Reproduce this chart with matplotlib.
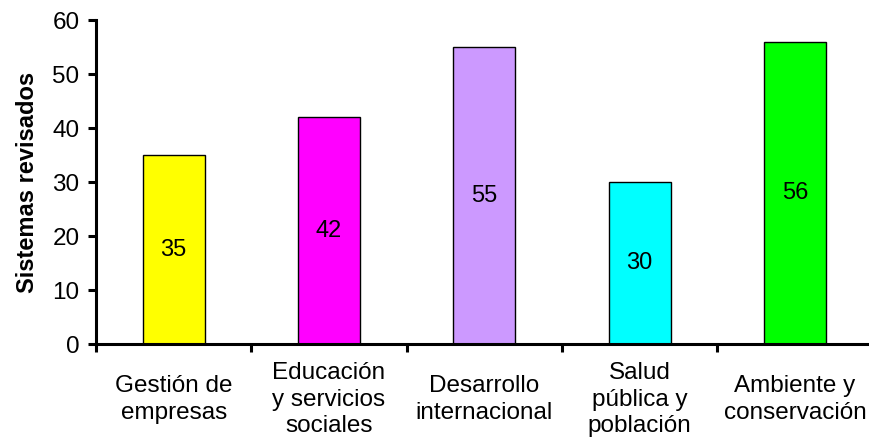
import numpy as np
import matplotlib
matplotlib.use('Agg')
from matplotlib import pyplot as plt

plt.rcParams['font.family'] = ['Liberation Sans', 'DejaVu Sans']

categorias = ['Gestión de\nempresas', 'Educación\ny servicios\nsociales',
              'Desarrollo\ninternacional', 'Salud\npública y\npoblación',
              'Ambiente y\nconservación']
valores = [35, 42, 55, 30, 56]
colores = ['#FFFF00', '#FF00FF', '#CC99FF', '#00FFFF', '#00FF00']

fig = plt.figure(figsize=(8.7, 4.38), dpi=100)
ax = fig.add_axes([0.1103, 0.2146, 0.8927, 0.7394])

x = np.arange(len(valores))
barras = ax.bar(x, valores, width=0.4, color=colores, edgecolor='black', linewidth=1.0)

# etiquetas dentro de las barras, centradas
for xi, v in zip(x, valores):
    ax.text(xi, v / 2, str(v), ha='center', va='center', fontsize=17)

ax.set_xlim(-0.5, len(valores) - 0.5)
ax.set_ylim(0, 60)
ax.set_yticks(np.arange(0, 61, 10))

# ticks mayores en los limites entre categorias, etiquetas en los centros
ax.set_xticks(np.arange(-0.5, len(valores), 1.0))
ax.set_xticklabels([])
ax.set_xticks(x, minor=True)
ax.set_xticklabels(categorias, minor=True)
for lab in ax.get_xticklabels(minor=True):
    lab.set_va('center')
    lab.set_linespacing(1.25)

ax.tick_params(axis='both', which='major', direction='out', length=5.8, width=2.2,
               labelsize=17.5)
ax.tick_params(axis='y', pad=6)
ax.tick_params(axis='x', which='minor', length=0, pad=40, labelsize=17.5)

for s in ['top', 'right']:
    ax.spines[s].set_visible(False)
for s in ['left', 'bottom']:
    ax.spines[s].set_linewidth(2.2)

ax.set_ylabel('Sistemas revisados', fontsize=17, fontweight='bold', labelpad=10)

fig.savefig('out.png', dpi=100)
